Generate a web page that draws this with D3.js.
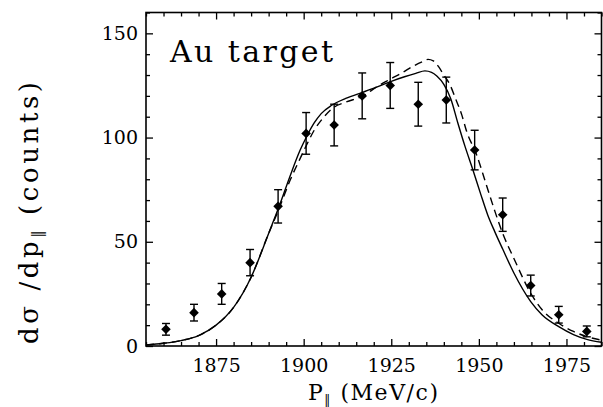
<!DOCTYPE html>
<html>
<meta charset="utf-8">
<head>
<style>
  body { margin: 0; background: #fff; }
  svg { display: block; }
  text { fill: #000; }
</style>
<script src="https://d3js.org/d3.v7.min.js"></script>
</head>
<body>
<svg></svg>
<script>

// measured points (P_par in MeV/c, counts, error)
var pX = [1860.7, 1868.7, 1876.6, 1884.7, 1892.7, 1900.7, 1908.7, 1916.7, 1924.7, 1932.7, 1940.7, 1948.8, 1956.8, 1964.8, 1972.8, 1980.8];
var pY = [8, 16, 25, 40, 67, 102, 106, 120, 125, 116, 118, 94, 63, 29, 15, 7];
var pErr = [2.8, 4, 5, 6.3, 8, 10, 10, 11, 11, 10.5, 11, 9.5, 8, 5, 4, 2.6];

// solid curve
var solidX = [1855, 1860, 1865, 1870, 1875, 1880, 1885, 1890, 1893, 1896, 1899, 1901, 1903, 1905, 1908, 1912, 1917, 1921, 1925, 1929, 1932, 1934.6, 1936.5, 1938, 1940, 1942, 1944, 1946, 1948.4, 1950.5, 1952.5, 1954.5, 1956.8, 1960, 1964.8, 1968, 1972.8, 1977, 1980.8, 1985];
var solidY = [0.5, 1.3, 2.6, 5, 10, 18.5, 33, 54, 67, 81, 94, 101, 107, 111.5, 115.5, 118.8, 121.8, 124.3, 127, 129.3, 130.8, 132, 131.3, 129.5, 125.5, 118.5, 107, 96, 84, 73, 63, 55, 46.5, 35, 21.3, 15, 9.3, 5.5, 3.2, 1.8];

// dashed curve
var dashX = [1855, 1860, 1865, 1870, 1875, 1880, 1885, 1890, 1893, 1896, 1899, 1901, 1903, 1905.6, 1908.4, 1912, 1917, 1921, 1924.6, 1928, 1931.3, 1934, 1935.5, 1937, 1938.5, 1940, 1941.7, 1943.5, 1945.1, 1946.5, 1949.3, 1952, 1954.5, 1956.8, 1960, 1964.8, 1968, 1972.8, 1977, 1980.8, 1985];
var dashY = [0.5, 1.3, 2.6, 5, 10, 18.5, 33, 54, 66, 79, 90, 97, 103.5, 109.5, 114.3, 117, 120, 124.5, 127.9, 131, 134.3, 136.5, 137.5, 136.8, 134, 130, 125.5, 118, 111, 103, 92, 78, 65, 54, 42, 25.3, 17.5, 10.9, 7, 4.5, 2.8];

var xMajor = [1875, 1900, 1925, 1950, 1975];
var yMajor = [0, 50, 100, 150];

var width = 603, height = 407;
var svg = d3.select("svg").attr("width", width).attr("height", height);

var x = d3.scaleLinear().domain([1855, 1985]).range([146, 601.5]);
var y = d3.scaleLinear().domain([0, 160]).range([346, 12.5]);

var xMinor = d3.range(1855, 1986, 5).filter(v => xMajor.indexOf(v) < 0);
var yMinor = d3.range(0, 161, 10).filter(v => yMajor.indexOf(v) < 0);

function styleAxis(g, size) {
    g.select(".domain").remove();
    g.selectAll("line").attr("stroke", "#000").attr("stroke-width", 1.3);
    g.selectAll("text")
        .attr("font-family", "'DejaVu Serif', serif")
        .attr("font-size", size);
}

// bottom
svg.append("g").attr("transform", "translate(0," + y(0) + ")")
    .call(d3.axisBottom(x).tickValues(xMajor).tickSize(-7).tickPadding(13).tickFormat(d3.format("d")))
    .call(styleAxis, 19);
svg.append("g").attr("transform", "translate(0," + y(0) + ")")
    .call(d3.axisBottom(x).tickValues(xMinor).tickSize(-4).tickFormat(""))
    .call(styleAxis, 19);
// top
svg.append("g").attr("transform", "translate(0," + y(160) + ")")
    .call(d3.axisTop(x).tickValues(xMajor).tickSize(-7).tickFormat(""))
    .call(styleAxis, 19);
svg.append("g").attr("transform", "translate(0," + y(160) + ")")
    .call(d3.axisTop(x).tickValues(xMinor).tickSize(-4).tickFormat(""))
    .call(styleAxis, 19);
// left
svg.append("g").attr("transform", "translate(" + x(1855) + ",0)")
    .call(d3.axisLeft(y).tickValues(yMajor).tickSize(-7).tickPadding(8).tickFormat(d3.format("d")))
    .call(styleAxis, 19);
svg.append("g").attr("transform", "translate(" + x(1855) + ",0)")
    .call(d3.axisLeft(y).tickValues(yMinor).tickSize(-4).tickFormat(""))
    .call(styleAxis, 19);
// right
svg.append("g").attr("transform", "translate(" + x(1985) + ",0)")
    .call(d3.axisRight(y).tickValues(yMajor).tickSize(-7).tickFormat(""))
    .call(styleAxis, 19);
svg.append("g").attr("transform", "translate(" + x(1985) + ",0)")
    .call(d3.axisRight(y).tickValues(yMinor).tickSize(-4).tickFormat(""))
    .call(styleAxis, 19);

// frame
svg.append("rect")
    .attr("x", x(1855)).attr("y", y(160))
    .attr("width", x(1985) - x(1855)).attr("height", y(0) - y(160))
    .attr("fill", "none").attr("stroke", "#000").attr("stroke-width", 1.6);

// curves
var line = d3.line().curve(d3.curveMonotoneX);
svg.append("path")
    .attr("d", line(solidX.map((v, i) => [x(v), y(solidY[i])])))
    .attr("fill", "none").attr("stroke", "#000").attr("stroke-width", 1.4);
svg.append("path")
    .attr("d", line(dashX.map((v, i) => [x(v), y(dashY[i])])))
    .attr("fill", "none").attr("stroke", "#000").attr("stroke-width", 1.4)
    .attr("stroke-dasharray", "8,5");

// error bars
var pts = pX.map((v, i) => ({x: v, y: pY[i], e: pErr[i]}));
var eb = svg.append("g").attr("stroke", "#000").attr("stroke-width", 1.4);
eb.selectAll(".v").data(pts).enter().append("line")
    .attr("x1", d => x(d.x)).attr("x2", d => x(d.x))
    .attr("y1", d => y(d.y - d.e)).attr("y2", d => y(d.y + d.e));
eb.selectAll(".t").data(pts).enter().append("line")
    .attr("x1", d => x(d.x) - 4).attr("x2", d => x(d.x) + 4)
    .attr("y1", d => y(d.y + d.e)).attr("y2", d => y(d.y + d.e));
eb.selectAll(".b").data(pts).enter().append("line")
    .attr("x1", d => x(d.x) - 4).attr("x2", d => x(d.x) + 4)
    .attr("y1", d => y(d.y - d.e)).attr("y2", d => y(d.y - d.e));

// diamonds
svg.append("g").selectAll("path").data(pts).enter().append("path")
    .attr("d", d3.symbol(d3.symbolSquare, 46))
    .attr("transform", d => "translate(" + x(d.x) + "," + y(d.y) + ") rotate(45)")
    .attr("fill", "#000");

// label in plot
svg.append("text")
    .attr("x", 170).attr("y", 62)
    .attr("font-family", "'DejaVu Serif', serif")
    .attr("font-size", 30)
    .attr("textLength", 163).attr("lengthAdjust", "spacing")
    .text("Au target");

// x title
var xt = svg.append("text")
    .attr("x", 308).attr("y", 400)
    .attr("font-family", "'DejaVu Serif', serif")
    .attr("font-size", 22)
    .attr("textLength", 130).attr("lengthAdjust", "spacing");
xt.append("tspan").text("P");
xt.append("tspan").attr("font-size", 12).attr("dy", 4).text("\u2016");
xt.append("tspan").attr("dy", -4).text(" (MeV/c)");

// y title
var yt = svg.append("text")
    .attr("transform", "translate(38,344) rotate(-90)")
    .attr("font-family", "'DejaVu Serif', serif")
    .attr("font-size", 26)
    .attr("textLength", 262).attr("lengthAdjust", "spacing");
yt.append("tspan").text("d\u03c3 /dp");
yt.append("tspan").attr("font-size", 15).attr("dy", 4).text("\u2016");
yt.append("tspan").attr("dy", -4).text(" (counts)");

</script>
</body>
</html>
